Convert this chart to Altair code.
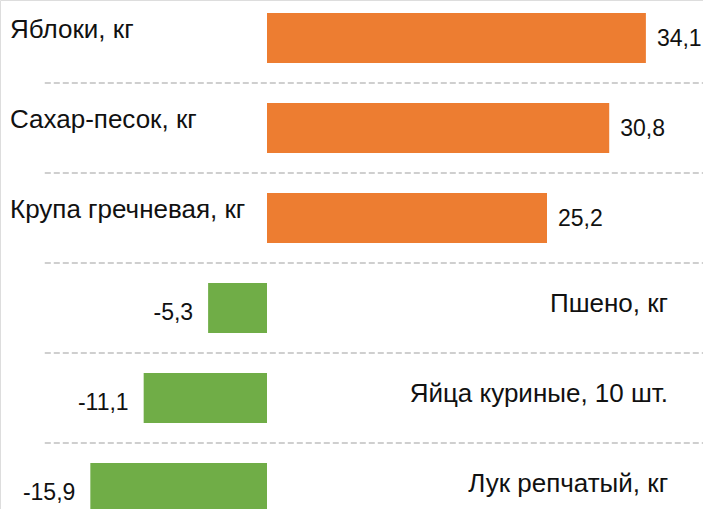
import altair as alt
import pandas as pd

categories = ["Яблоки, кг", "Сахар-песок, кг", "Крупа гречневая, кг",
              "Пшено, кг", "Яйца куриные, 10 шт.", "Лук репчатый, кг"]
values = [34.1, 30.8, 25.2, -5.3, -11.1, -15.9]
rows = list(range(len(categories)))

df = pd.DataFrame({"cat": categories, "value": values, "row": rows})
df["label"] = df["value"].map(lambda v: f"{v:.1f}".replace(".", ","))
df["sign"] = df["value"].map(lambda v: "pos" if v >= 0 else "neg")
pos = df[df["value"] >= 0]
neg = df[df["value"] < 0]
sep = pd.DataFrame({"row": [r + 0.5 for r in rows[:-1]]})

XMIN, XMAX = -24.03, 39.24
xs = alt.Scale(domain=[XMIN, XMAX], nice=False, zero=False, padding=0)
ys = alt.Scale(domain=[-38 / 90, 471 / 90], reverse=True, nice=False, zero=False, padding=0)
Y = alt.Y("row:Q", scale=ys, axis=None)

rules = alt.Chart(sep).transform_calculate(
    x0="-20", x1=str(XMAX)
).mark_rule(color="#cfcfcf", strokeWidth=2, strokeDash=[6, 3]).encode(
    x=alt.X("x0:Q", scale=xs, axis=None), x2="x1:Q", y=Y)

bars = alt.Chart(df).transform_calculate(zero="0").mark_bar(size=50, orient="horizontal").encode(
    x=alt.X("value:Q", scale=xs, axis=None),
    x2="zero:Q",
    y=Y,
    color=alt.Color("sign:N", scale=alt.Scale(domain=["pos", "neg"], range=["#ED7D31", "#70AD47"]), legend=None),
)

num_font = "Liberation Sans"
cat_font = "Liberation Sans"

pos_vals = alt.Chart(pos).mark_text(align="left", baseline="middle", dx=11, dy=1,
                                    font=num_font, fontSize=23, color="#111111").encode(
    x=alt.X("value:Q", scale=xs, axis=None), y=Y, text="label:N")
neg_vals = alt.Chart(neg).mark_text(align="right", baseline="middle", dx=-15, dy=5,
                                    font=num_font, fontSize=23, color="#111111").encode(
    x=alt.X("value:Q", scale=xs, axis=None), y=Y, text="label:N")

pos_cats = alt.Chart(pos).transform_calculate(xc=str(XMIN)).mark_text(
    align="left", baseline="alphabetic", dx=10, dy=0,
    font=cat_font, fontSize=26, color="#111111").encode(
    x=alt.X("xc:Q", scale=xs, axis=None), y=Y, text="cat:N")
neg_cats = alt.Chart(neg).transform_calculate(xc="36.1").mark_text(
    align="right", baseline="alphabetic", dy=4,
    font=cat_font, fontSize=26, color="#111111").encode(
    x=alt.X("xc:Q", scale=xs, axis=None), y=Y, text="cat:N")

chart = alt.layer(rules, bars, pos_vals, neg_vals, pos_cats, neg_cats).properties(
    width=703, height=509, padding=0, autosize=alt.AutoSizeParams(type="none")
).configure_view(stroke=None).configure(background="white")

chart.save("out.html", embed_options={"renderer": "svg", "actions": False})
